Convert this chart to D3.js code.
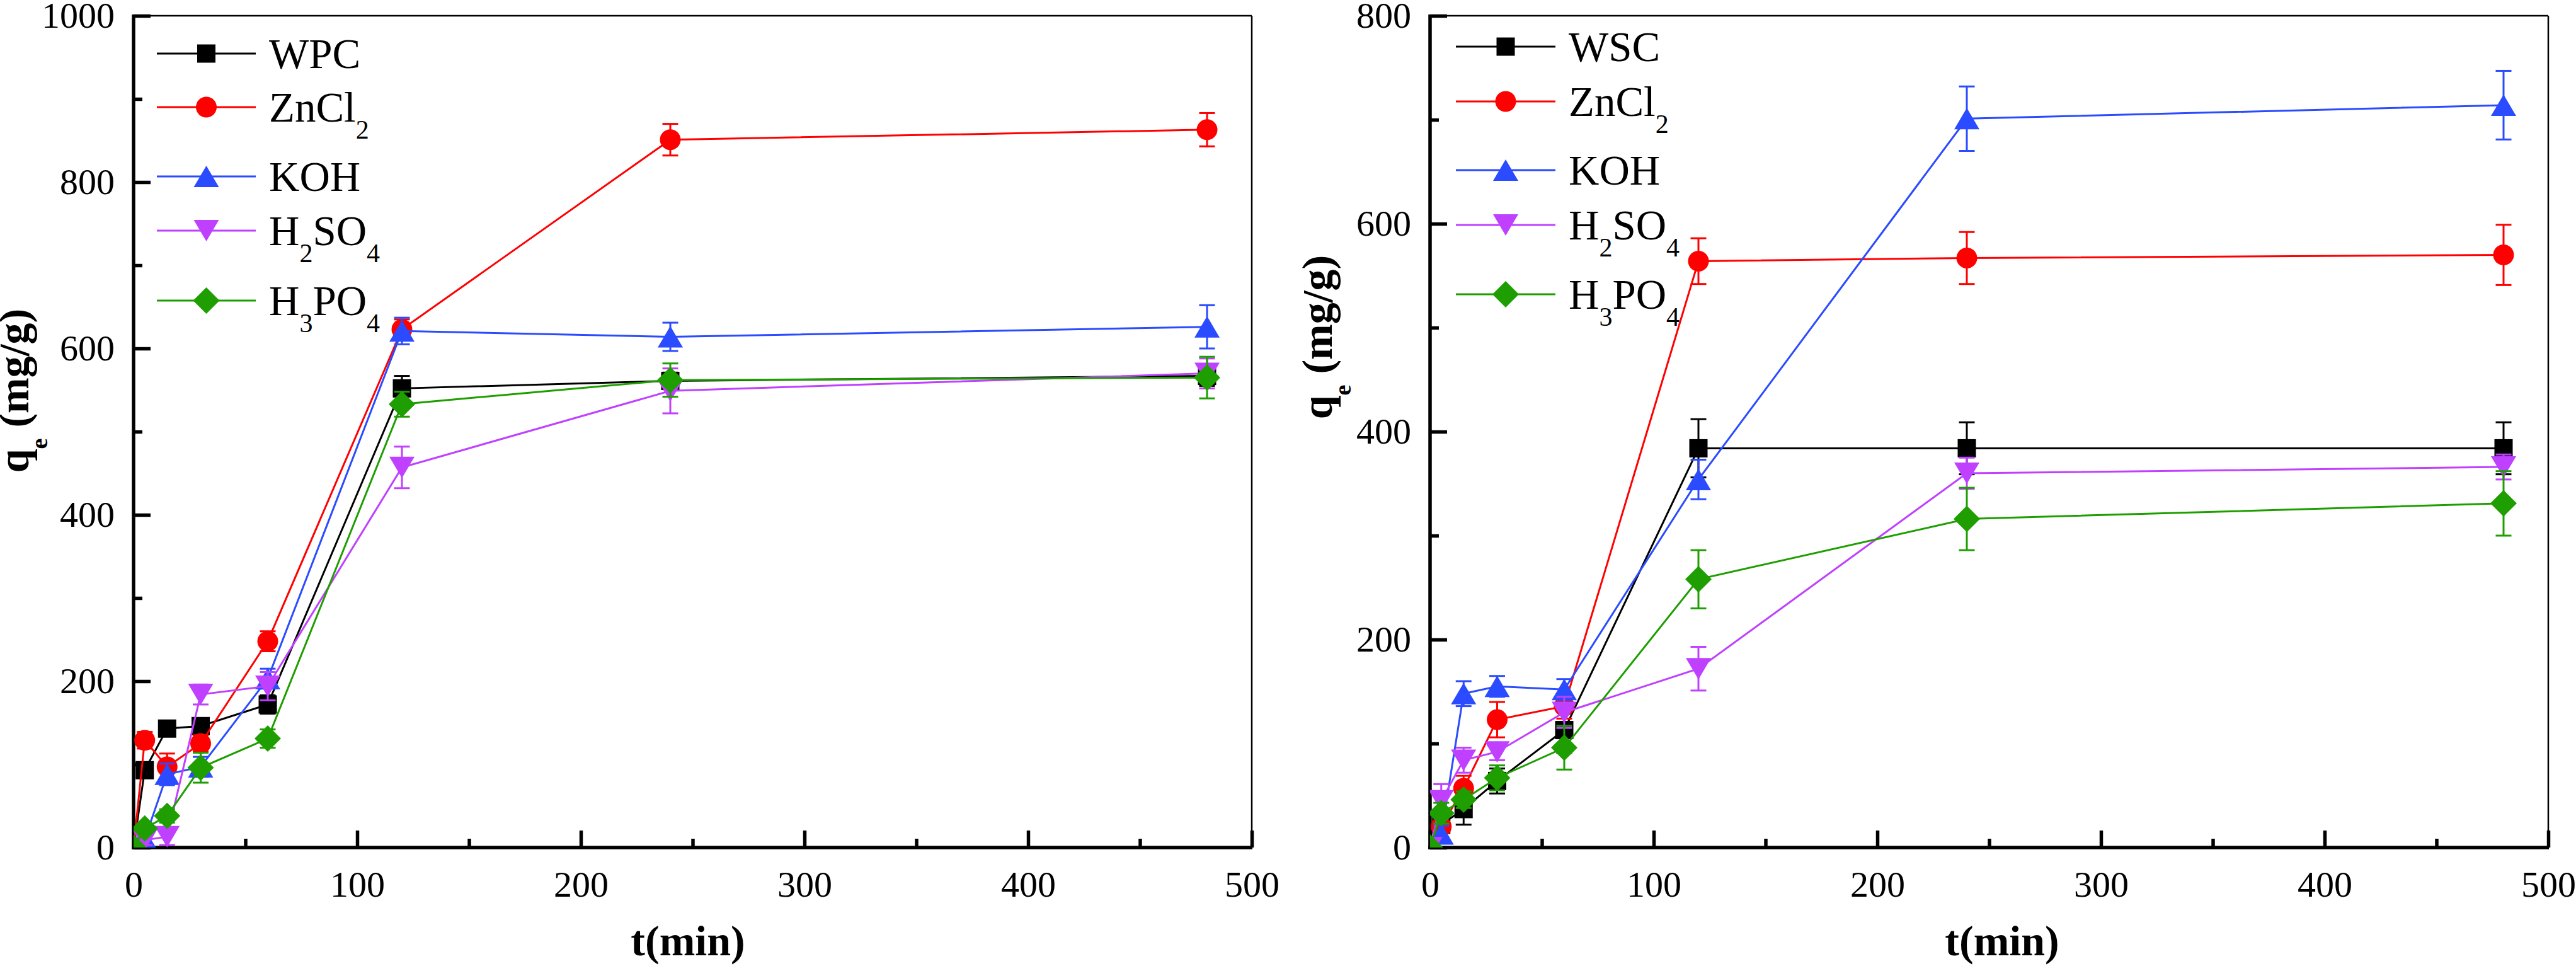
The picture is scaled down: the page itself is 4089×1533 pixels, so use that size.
<!DOCTYPE html>
<html><head><meta charset="utf-8">
<script src="https://cdn.jsdelivr.net/npm/d3@7"></script>
<style>html,body{margin:0;padding:0;background:#fff}svg{display:block}</style>
</head><body>
<svg id="chart" width="4089" height="1533"></svg>
<script>
// ---------- DATA ----------
const tMin = [0, 5, 15, 30, 60, 120, 240, 480];

// Left panel (WPC series)
const leftLabels = ["WPC", "ZnCl_2", "KOH", "H_2SO_4", "H_3PO_4"];
const WPC_qe      = [0, 93, 143, 146, 172, 552, 561, 567];
const WPC_err     = [0, 6, 8, 8, 11, 15, 10, 12];
const WPC_ZnCl2   = [0, 129, 97, 125, 248, 623, 851, 863];
const WPC_ZnCl2e  = [0, 10, 16, 10, 12, 12, 19, 20];
const WPC_KOH     = [0, 10, 88, 97, 203, 621, 614, 626];
const WPC_KOHe    = [0, 8, 13, 12, 12, 16, 17, 26];
const WPC_H2SO4   = [0, 9, 13, 184, 194, 457, 549, 570];
const WPC_H2SO4e  = [0, 6, 10, 12, 17, 25, 27, 18];
const WPC_H3PO4   = [0, 23, 38, 96, 131, 533, 562, 565];
const WPC_H3PO4e  = [0, 6, 8, 18, 11, 15, 20, 25];

// Right panel (WSC series)
const rightLabels = ["WSC", "ZnCl_2", "KOH", "H_2SO_4", "H_3PO_4"];
const WSC_qe      = [0, 22, 37, 64, 113, 384, 384, 384];
const WSC_err     = [0, 8, 15, 12, 22, 28, 25, 25];
const WSC_ZnCl2   = [0, 20, 57, 123, 136, 564, 567, 570];
const WSC_ZnCl2e  = [0, 10, 12, 17, 12, 22, 25, 29];
const WSC_KOH     = [0, 13, 148, 155, 152, 354, 701, 714];
const WSC_KOHe    = [0, 8, 12, 10, 10, 19, 31, 33];
const WSC_H2SO4   = [0, 45, 84, 92, 130, 172, 360, 366];
const WSC_H2SO4e  = [0, 16, 12, 8, 15, 21, 15, 12];
const WSC_H3PO4   = [0, 33, 46, 67, 96, 258, 316, 331];
const WSC_H3PO4e  = [0, 10, 8, 12, 21, 28, 30, 31];

const xTicks = [0, 100, 200, 300, 400, 500];
const xMinor = [50, 150, 250, 350, 450];
const leftYTicks = [0, 200, 400, 600, 800, 1000];
const leftYMinor = [100, 300, 500, 700, 900];
const rightYTicks = [0, 200, 400, 600, 800];
const rightYMinor = [100, 300, 500, 700];

// ---------- STYLE ----------
const colors = ["#000000", "#ff0000", "#2a4bff", "#bf40ff", "#1e9e00"];
const shapes = ["square", "circle", "up", "down", "diamond"];
const FONT = "'Liberation Serif','Times New Roman',serif";

function markerPath(s) {
  switch (s) {
    case "square": return "M-14.5,-14.5H14.5V14.5H-14.5Z";
    case "circle": return d3.arc()({innerRadius:0, outerRadius:16.5, startAngle:0, endAngle:2*Math.PI});
    case "up": return "M0,-17L20,17L-20,17Z";
    case "down": return "M0,17L20,-17L-20,-17Z";
    case "diamond": return "M0,-21L21,0L0,21L-21,0Z";
  }
}

function addRich(textSel, label, subSize, shift) {
  const parts = label.split(/_(\w)/);
  let down = false;
  parts.forEach((p, i) => {
    if (p === "") return;
    const sub = i % 2 === 1;
    const ts = textSel.append("tspan").text(p);
    if (sub) { ts.attr("font-size", subSize); if (!down) { ts.attr("dy", shift); down = true; } }
    else if (down) { ts.attr("dy", -shift); down = false; }
  });
}

const svg = d3.select("#chart");
svg.append("rect").attr("width", 4089).attr("height", 1533).attr("fill", "#fff");

function panel(cfg) {
  const x = d3.scaleLinear().domain([0, 500]).range([cfg.x0, cfg.x1]);
  const y = d3.scaleLinear().domain([0, cfg.yMax]).range([1345, 25]);
  const g = svg.append("g");
  const clipId = "clip" + cfg.id;
  svg.append("clipPath").attr("id", clipId).append("rect")
    .attr("x", cfg.x0).attr("y", 25).attr("width", cfg.x1 - cfg.x0).attr("height", 1320);

  // axes ticks
  const yAx = g.append("g").attr("transform", `translate(${cfg.x0},0)`)
    .call(d3.axisLeft(y).tickValues(cfg.yTicks).tickSizeInner(-27).tickSizeOuter(0).tickPadding(30).tickFormat(d3.format("d")));
  const yMin = g.append("g").attr("transform", `translate(${cfg.x0},0)`)
    .call(d3.axisLeft(y).tickValues(cfg.yMinor).tickSizeInner(-14).tickSizeOuter(0).tickFormat(""));
  const xAx = g.append("g").attr("transform", `translate(0,1345)`)
    .call(d3.axisBottom(x).tickValues(xTicks).tickSizeInner(-27).tickSizeOuter(0).tickPadding(37).tickFormat(d3.format("d")));
  const xMin = g.append("g").attr("transform", `translate(0,1345)`)
    .call(d3.axisBottom(x).tickValues(xMinor).tickSizeInner(-14).tickSizeOuter(0).tickFormat(""));
  [yAx, yMin, xAx, xMin].forEach(a => {
    a.select(".domain").remove();
    a.selectAll(".tick line").attr("stroke", "#000").attr("stroke-width", 5.5);
    a.selectAll(".tick text").attr("font-family", FONT).attr("font-size", 58).attr("fill", "#000");
  });

  // frame
  g.append("line").attr("x1", cfg.x0).attr("x2", cfg.x1).attr("y1", 25).attr("y2", 25).attr("stroke", "#000").attr("stroke-width", 2.5);
  g.append("line").attr("x1", cfg.x1).attr("x2", cfg.x1).attr("y1", 25).attr("y2", 1345).attr("stroke", "#000").attr("stroke-width", 2.5);
  g.append("line").attr("x1", cfg.x0).attr("x2", cfg.x0).attr("y1", 23).attr("y2", 1348).attr("stroke", "#000").attr("stroke-width", 5.5);
  g.append("line").attr("x1", cfg.x0 - 2.75).attr("x2", cfg.x1 + 1).attr("y1", 1345).attr("y2", 1345).attr("stroke", "#000").attr("stroke-width", 5.5);

  // data
  const dg = g.append("g").attr("clip-path", `url(#${clipId})`);
  cfg.series.forEach((s, i) => {
    const pts = tMin.map((t, k) => ({t, q: s.q[k], e: s.e[k]}));
    const sg = dg.append("g");
    sg.append("path").datum(pts)
      .attr("d", d3.line().x(d => x(d.t)).y(d => y(d.q)))
      .attr("fill", "none").attr("stroke", colors[i]).attr("stroke-width", 3);
    const eb = sg.selectAll(".eb").data(pts.filter(d => d.e > 0)).enter().append("g");
    eb.append("line").attr("x1", d => x(d.t)).attr("x2", d => x(d.t))
      .attr("y1", d => y(d.q + d.e)).attr("y2", d => y(d.q - d.e))
      .attr("stroke", colors[i]).attr("stroke-width", 3);
    [1, -1].forEach(sgn => {
      eb.append("line").attr("x1", d => x(d.t) - 12.5).attr("x2", d => x(d.t) + 12.5)
        .attr("y1", d => y(d.q + sgn * d.e)).attr("y2", d => y(d.q + sgn * d.e))
        .attr("stroke", colors[i]).attr("stroke-width", 3);
    });
    sg.selectAll(".mk").data(pts).enter().append("path")
      .attr("d", markerPath(shapes[i]))
      .attr("transform", d => `translate(${x(d.t)},${y(d.q)})`)
      .attr("fill", colors[i]);
  });

  // legend
  cfg.labels.forEach((lab, i) => {
    const ly = cfg.legRows[i];
    g.append("line").attr("x1", cfg.legX1).attr("x2", cfg.legX2).attr("y1", ly).attr("y2", ly)
      .attr("stroke", colors[i]).attr("stroke-width", 3);
    g.append("path").attr("d", markerPath(shapes[i]))
      .attr("transform", `translate(${(cfg.legX1 + cfg.legX2) / 2},${ly})`).attr("fill", colors[i]);
    const tx = g.append("text").attr("x", cfg.legX2 + 21).attr("y", ly + 23)
      .attr("font-family", FONT).attr("font-size", 67).attr("fill", "#000");
    addRich(tx, lab, 42, 27);
  });

  // axis titles
  g.append("text").attr("x", cfg.xTitleX).attr("y", 1516).attr("text-anchor", "middle")
    .attr("font-family", FONT).attr("font-weight", "bold").attr("font-size", 68).text("t(min)");
  const yt = g.append("text").attr("text-anchor", "middle")
    .attr("transform", `translate(${cfg.yTitleX},${cfg.yTitleY}) rotate(-90)`)
    .attr("font-family", FONT).attr("font-weight", "bold").attr("font-size", 68);
  yt.append("tspan").text("q");
  yt.append("tspan").attr("font-size", 38).attr("dy", 30).text("e");
  yt.append("tspan").attr("dy", -30).text(" (mg/g)");
}

panel({
  id: "L", x0: 212, x1: 1987, yMax: 1000, yTicks: leftYTicks, yMinor: leftYMinor,
  labels: leftLabels,
  series: [
    {q: WPC_qe, e: WPC_err}, {q: WPC_ZnCl2, e: WPC_ZnCl2e}, {q: WPC_KOH, e: WPC_KOHe},
    {q: WPC_H2SO4, e: WPC_H2SO4e}, {q: WPC_H3PO4, e: WPC_H3PO4e}
  ],
  legX1: 249, legX2: 406, legRows: [85, 170, 280, 366, 477],
  xTitleX: 1092, yTitleX: 45, yTitleY: 620
});
panel({
  id: "R", x0: 2270, x1: 4045, yMax: 800, yTicks: rightYTicks, yMinor: rightYMinor,
  labels: rightLabels,
  series: [
    {q: WSC_qe, e: WSC_err}, {q: WSC_ZnCl2, e: WSC_ZnCl2e}, {q: WSC_KOH, e: WSC_KOHe},
    {q: WSC_H2SO4, e: WSC_H2SO4e}, {q: WSC_H3PO4, e: WSC_H3PO4e}
  ],
  legX1: 2311, legX2: 2469, legRows: [74, 161, 270, 357, 467],
  xTitleX: 3178, yTitleX: 2114, yTitleY: 535
});
</script>
</body></html>
